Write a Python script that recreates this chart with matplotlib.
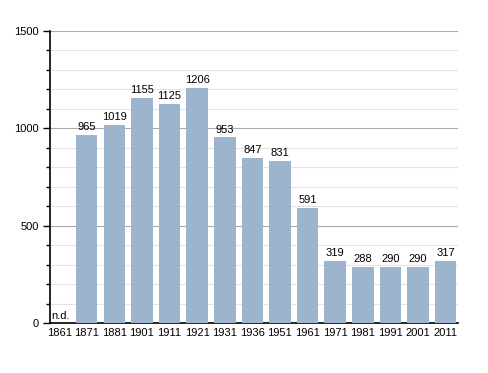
import numpy as np
import matplotlib.pyplot as plt
from matplotlib.ticker import MultipleLocator

plt.rcParams['font.family'] = ['Liberation Sans', 'DejaVu Sans']

years = ['1861', '1871', '1881', '1901', '1911', '1921', '1931', '1936',
         '1951', '1961', '1971', '1981', '1991', '2001', '2011']
pop = [0, 965, 1019, 1155, 1125, 1206, 953, 847, 831, 591, 319, 288, 290, 290, 317]

fig = plt.figure(figsize=(4.88, 3.73), dpi=100)
ax = fig.add_axes([0.1025, 0.134, 0.836, 0.783])

x = np.arange(len(years))
ax.bar(x[1:], pop[1:], width=0.78, color='#9db4cf', zorder=3)
for xi, v in zip(x[1:], pop[1:]):
    ax.text(xi, v + 15, str(v), ha='center', va='bottom', fontsize=8, zorder=4)
ax.text(x[0] - 0.28, 12, 'n.d.', ha='left', va='bottom', fontsize=8)

ax.set_xlim(-0.33, 14.45)
ax.set_ylim(0, 1500)
ax.set_xticks(x)
ax.set_xticklabels(years, fontsize=8)
ax.tick_params(axis='x', length=0, pad=3.5)
ax.yaxis.set_major_locator(MultipleLocator(500))
ax.yaxis.set_minor_locator(MultipleLocator(100))
ax.tick_params(axis='y', which='major', labelsize=8, length=5, width=1, pad=3)
ax.tick_params(axis='y', which='minor', length=3, width=1)
ax.grid(axis='y', which='major', color='#aaaaaa', lw=0.8, zorder=0)
ax.grid(axis='y', which='minor', color='#e4e4e4', lw=0.8, zorder=0)
for s in ['top', 'right']:
    ax.spines[s].set_visible(False)
ax.spines['left'].set_linewidth(1.2)
ax.spines['bottom'].set_linewidth(1.2)

fig.savefig('out.png', dpi=100)
